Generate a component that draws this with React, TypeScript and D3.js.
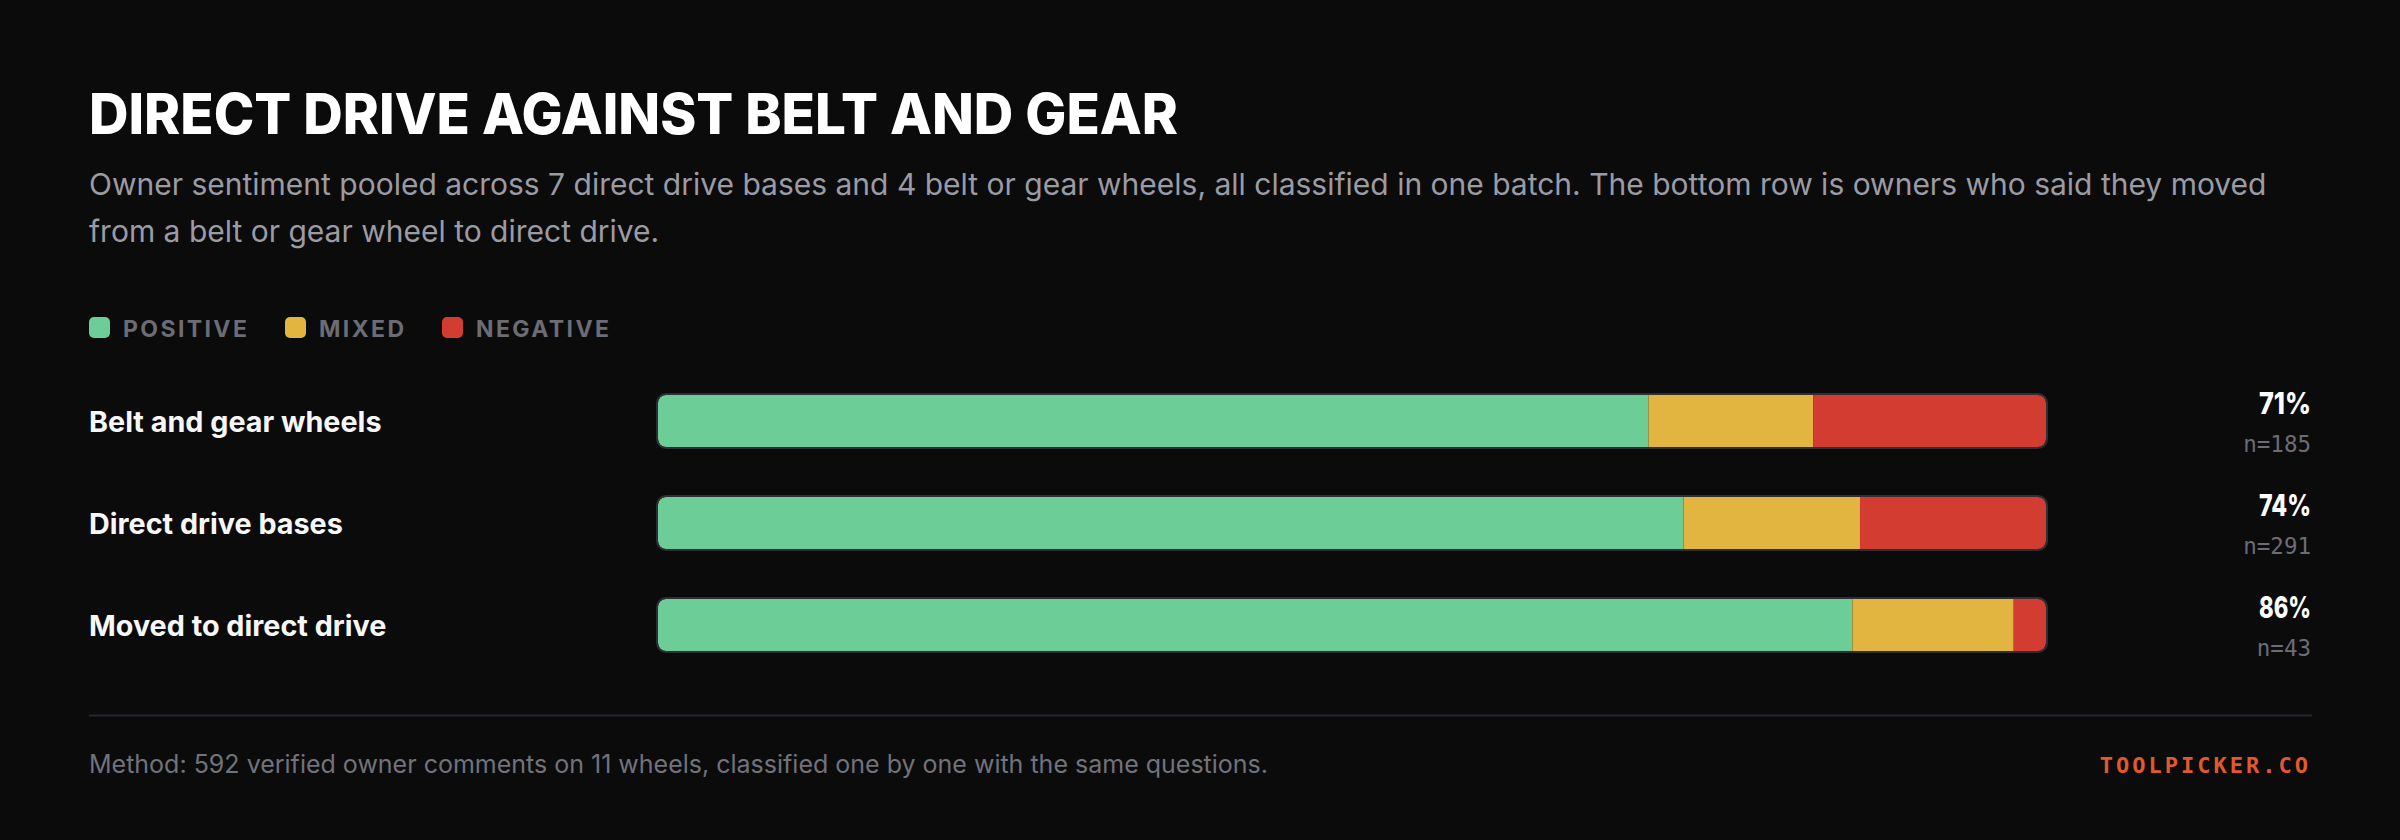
import React, { useEffect, useMemo } from "react";
import * as d3 from "d3";

// rows top to bottom
const categories = ["Belt and gear wheels", "Direct drive bases", "Moved to direct drive"];
const positiveCounts = [132, 215, 37];
const mixedCounts = [22, 37, 5];
const negativeCounts = [31, 39, 1];

const seriesKeys = ["positive", "mixed", "negative"];
const seriesLabels = ["POSITIVE", "MIXED", "NEGATIVE"];
const seriesColors = ["#6ccd96", "#e1b540", "#d33c30"];

const title = "DIRECT DRIVE AGAINST BELT AND GEAR";
const subtitleLines = [
  "Owner sentiment pooled across 7 direct drive bases and 4 belt or gear wheels, all classified in one batch. The bottom row is owners who said they moved",
  "from a belt or gear wheel to direct drive.",
];
const footnote = "Method: 592 verified owner comments on 11 wheels, classified one by one with the same questions.";
const brand = "TOOLPICKER.CO";

const W = 2400;
const H = 840;
const LEFT = 89;
const RIGHT = 2311;

const App: React.FC = () => {
  useEffect(() => {
    document.body.style.margin = "0";
    document.body.style.background = "#0b0b0c";
  }, []);

  const rows = useMemo(
    () =>
      categories.map((c, i) => {
        const n = positiveCounts[i] + mixedCounts[i] + negativeCounts[i];
        return {
          label: c,
          n,
          positive: positiveCounts[i] / n,
          mixed: mixedCounts[i] / n,
          negative: negativeCounts[i] / n,
        };
      }),
    []
  );

  const stacked = useMemo(() => d3.stack<any>().keys(seriesKeys)(rows), [rows]);

  const x = d3.scaleLinear().domain([0, 1]).range([658, 2046]);
  const y = d3
    .scaleBand()
    .domain(categories)
    .range([395, 651])
    .paddingInner(0.4902)
    .paddingOuter(0);
  const bw = y.bandwidth();
  const color = d3.scaleOrdinal<string, string>().domain(seriesKeys).range(seriesColors);

  // legend layout
  const legendX: number[] = [];
  const legendWidths = [123, 84, 133];
  let lx = LEFT;
  seriesLabels.forEach((_, i) => {
    legendX.push(lx);
    lx += 21 + 13 + legendWidths[i] + 39;
  });

  return (
    <svg width={W} height={H} style={{ display: "block", background: "#0b0b0c" }}>
      <rect x={0} y={0} width={W} height={H} fill="#0b0b0c" />
      <defs>
        {categories.map((c, i) => (
          <clipPath id={`clip-${i}`} key={c}>
            <rect x={x(0)} y={y(c)} width={x(1) - x(0)} height={bw} rx={8} />
          </clipPath>
        ))}
      </defs>

      <text
        x={LEFT}
        y={134}
        fill="#ffffff"
        fontFamily="Inter"
        fontWeight={800}
        fontSize={56}
        textLength={1089}
        lengthAdjust="spacingAndGlyphs"
      >
        {title}
      </text>

      {subtitleLines.map((t, i) => (
        <text
          key={i}
          x={LEFT}
          y={195 + i * 47}
          fill="#9b9ba4"
          fontFamily="Inter"
          fontSize={30}
        >
          {t}
        </text>
      ))}

      {seriesLabels.map((s, i) => (
        <g key={s} transform={`translate(${legendX[i]},317)`}>
          <rect width={21} height={21} rx={5} fill={seriesColors[i]} />
          <text
            x={34}
            y={20}
            fill="#6c6c75"
            fontFamily="Inter"
            fontWeight={700}
            fontSize={23}
            letterSpacing={2.4}
          >
            {s}
          </text>
        </g>
      ))}

      {rows.map((r) => (
        <text
          key={r.label}
          x={LEFT}
          y={(y(r.label) as number) + bw / 2 + 11}
          fill="#f7f7f8"
          fontFamily="Inter"
          fontWeight={700}
          fontSize={28.75}
        >
          {r.label}
        </text>
      ))}

      {rows.map((r, i) => (
        <g key={r.label} clipPath={`url(#clip-${i})`}>
          {stacked.map((s) => (
            <rect
              key={s.key}
              x={x(s[i][0])}
              y={y(r.label)}
              width={x(s[i][1]) - x(s[i][0])}
              height={bw}
              fill={color(s.key)}
            />
          ))}
        </g>
      ))}

      {rows.map((r) => (
        <rect
          key={r.label}
          x={x(0) - 1}
          y={(y(r.label) as number) - 1}
          width={x(1) - x(0) + 2}
          height={bw + 2}
          rx={9}
          fill="none"
          stroke="#2e2e35"
          strokeWidth={2}
        />
      ))}

      {rows.map((r) => (
        <g key={r.label}>
          <text
            x={RIGHT}
            y={(y(r.label) as number) + 19}
            textAnchor="end"
            fill="#ffffff"
            fontFamily="Inter"
            fontWeight={800}
            fontSize={30}
            textLength={52}
            lengthAdjust="spacingAndGlyphs"
          >
            {`${Math.round(r.positive * 100)}%`}
          </text>
          <text
            x={RIGHT}
            y={(y(r.label) as number) + 57}
            textAnchor="end"
            fill="#6c6c74"
            fontFamily="DejaVu Sans Mono"
            fontSize={22.5}
          >
            {`n=${r.n}`}
          </text>
        </g>
      ))}

      <line x1={LEFT} x2={RIGHT + 1} y1={715.5} y2={715.5} stroke="#26262c" strokeWidth={2} />

      <text x={LEFT} y={773} fill="#72727b" fontFamily="Inter" fontSize={25}>
        {footnote}
      </text>
      <text
        x={RIGHT}
        y={773}
        textAnchor="end"
        fill="#e05a2b"
        fontFamily="DejaVu Sans Mono"
        fontWeight={700}
        fontSize={22}
        letterSpacing={3}
      >
        {brand}
      </text>
    </svg>
  );
};

export default App;
